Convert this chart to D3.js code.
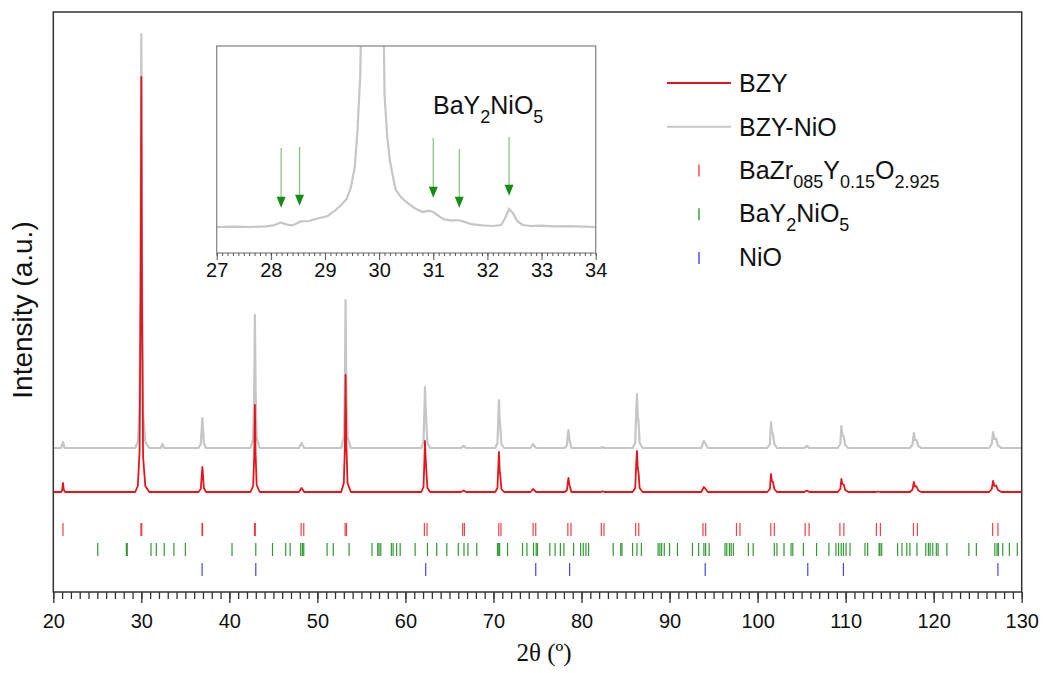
<!DOCTYPE html>
<html>
<head>
<meta charset="utf-8">
<script src="https://cdn.jsdelivr.net/npm/d3@7"></script>
<style>
    body { margin: 0; background: #fff; }
    svg { display: block; }
    text { font-family: "Liberation Sans", Arial, sans-serif; fill: #111; }
</style>
</head>
<body>
<div id="chart"></div>
<script>

// Diffraction patterns as [2theta, intensity above own baseline] points.
var bzyPattern = [
    [20, 0], [20.9, 0], [21.0, 15], [21.1, 90], [21.2, 20], [21.35, 0],
    [29.3, 0], [29.6, 60], [29.8, 400], [29.92, 2000], [30.0, 4150], [30.08, 1800], [30.2, 350], [30.45, 60], [30.9, 0],
    [36.5, 0], [36.75, 30], [36.85, 150], [36.93, 250], [37.0, 180], [37.1, 40], [37.35, 0],
    [42.4, 0], [42.7, 60], [42.82, 350], [42.9, 870], [42.98, 380], [43.1, 70], [43.45, 0],
    [47.9, 0], [48.2, 40], [48.5, 0],
    [52.7, 0], [53.0, 90], [53.12, 450], [53.2, 1170], [53.28, 500], [53.42, 90], [53.8, 0],
    [61.8, 0], [62.05, 50], [62.15, 300], [62.22, 510], [62.3, 330], [62.38, 200], [62.5, 40], [62.8, 0],
    [66.3, 0], [66.6, 15], [66.9, 0],
    [70.2, 0], [70.45, 40], [70.55, 250], [70.62, 400], [70.7, 220], [70.78, 160], [70.9, 30], [71.2, 0],
    [74.2, 0], [74.5, 30], [74.6, 20], [74.85, 0],
    [78.1, 0], [78.35, 20], [78.45, 100], [78.52, 140], [78.6, 80], [78.7, 50], [78.85, 0],
    [82.2, 0], [82.4, 8], [82.6, 0],
    [85.8, 0], [86.1, 40], [86.22, 300], [86.3, 410], [86.38, 250], [86.48, 190], [86.6, 40], [86.95, 0],
    [93.6, 0], [93.9, 50], [94.1, 30], [94.35, 0],
    [101.1, 0], [101.4, 30], [101.52, 180], [101.62, 110], [101.75, 100], [101.9, 30], [102.2, 0],
    [105.3, 0], [105.6, 15], [105.9, 0],
    [109.1, 0], [109.4, 30], [109.52, 130], [109.62, 80], [109.78, 75], [109.95, 20], [110.3, 0],
    [113.5, 0], [113.7, 5], [113.9, 0],
    [117.3, 0], [117.6, 25], [117.75, 100], [117.88, 55], [118.05, 55], [118.25, 15], [118.6, 0],
    [126.3, 0], [126.6, 30], [126.75, 110], [126.9, 60], [127.1, 65], [127.3, 20], [127.7, 0],
    [130, 0]
];

var bzyNioPattern = [
    [20, 0], [20.9, 0], [21.1, 60], [21.3, 0],
    [29.3, 0], [29.6, 60], [29.8, 400], [29.92, 2000], [30.0, 4140], [30.08, 1800], [30.2, 350], [30.45, 60], [30.9, 0],
    [32.2, 0], [32.4, 40], [32.6, 0],
    [36.5, 0], [36.75, 40], [36.85, 180], [36.93, 300], [37.0, 200], [37.1, 50], [37.35, 0],
    [42.4, 0], [42.7, 90], [42.82, 550], [42.9, 1330], [42.98, 560], [43.1, 100], [43.45, 0],
    [47.9, 0], [48.2, 50], [48.5, 0],
    [52.7, 0], [53.0, 110], [53.12, 560], [53.2, 1480], [53.28, 600], [53.42, 110], [53.8, 0],
    [61.8, 0], [62.05, 60], [62.15, 360], [62.22, 610], [62.3, 400], [62.38, 240], [62.5, 50], [62.8, 0],
    [66.3, 0], [66.6, 20], [66.9, 0],
    [70.2, 0], [70.45, 50], [70.55, 300], [70.62, 480], [70.7, 280], [70.78, 200], [70.9, 40], [71.2, 0],
    [74.2, 0], [74.5, 40], [74.6, 25], [74.85, 0],
    [78.1, 0], [78.35, 30], [78.45, 130], [78.52, 180], [78.6, 100], [78.7, 60], [78.85, 0],
    [82.2, 0], [82.4, 10], [82.6, 0],
    [85.8, 0], [86.1, 50], [86.22, 380], [86.3, 540], [86.38, 330], [86.48, 260], [86.6, 50], [86.95, 0],
    [93.6, 0], [93.9, 70], [94.1, 40], [94.35, 0],
    [101.1, 0], [101.4, 40], [101.52, 260], [101.62, 160], [101.75, 140], [101.9, 40], [102.2, 0],
    [105.3, 0], [105.6, 20], [105.9, 0],
    [109.1, 0], [109.4, 40], [109.52, 220], [109.62, 130], [109.78, 120], [109.95, 30], [110.3, 0],
    [117.3, 0], [117.6, 35], [117.75, 150], [117.88, 80], [118.05, 80], [118.25, 20], [118.6, 0],
    [126.3, 0], [126.6, 40], [126.75, 160], [126.9, 90], [127.1, 95], [127.3, 25], [127.7, 0],
    [130, 0]
];

// Zoomed BZY-NiO pattern for the inset (27 - 34 degrees).
var insetPattern = [
    [27.0, 0], [27.3, 2], [27.6, 0], [27.9, 3], [28.05, 8], [28.18, 23], [28.3, 12], [28.4, 8],
    [28.55, 28], [28.7, 30], [28.9, 45], [29.05, 55], [29.2, 86], [29.3, 110], [29.4, 140],
    [29.48, 200], [29.55, 300], [29.6, 480], [29.65, 750], [29.69, 1300], [29.8, 20000],
    [30.0, 20000], [30.07, 1300], [30.1, 660], [30.15, 450], [30.2, 330], [30.3, 190], [30.4, 150],
    [30.5, 125], [30.65, 95], [30.8, 75], [30.92, 82], [31.0, 75], [31.1, 55], [31.2, 38],
    [31.35, 32], [31.45, 35], [31.55, 28], [31.7, 14], [31.9, 8], [32.1, 5], [32.25, 10],
    [32.32, 40], [32.4, 90], [32.47, 70], [32.55, 30], [32.65, 10], [32.8, 5], [33.0, 7],
    [33.2, 3], [33.5, 4], [34.0, 0]
];

// Reference positions (2theta) of each phase.
var bzyRefs = [21.1, 29.95, 30.05, 36.9, 36.95, 42.85, 42.95, 48.15, 48.45, 53.15, 53.3, 62.15, 62.45,
    66.5, 66.7, 70.6, 70.85, 74.5, 74.8, 78.45, 78.8, 82.25, 82.55, 86.15, 86.5, 93.8, 94.1,
    97.6, 98.0, 101.5, 101.9, 105.4, 105.85, 109.35, 109.8, 113.5, 113.95, 117.7, 118.15, 126.7, 127.3];
var bayRefs = [25.05, 28.3, 28.4, 31.1, 31.7, 32.6, 33.7, 35.0, 40.3, 43.0, 44.9, 46.4, 46.9, 48.1, 48.3, 48.45,
    51.1, 51.8, 53.6, 56.2, 56.85, 57.0, 57.2, 58.4, 58.6, 59.0, 59.4, 61.1, 62.5, 63.55, 64.7, 66.0,
    66.65, 67.1, 68.1, 70.45, 70.6, 70.7, 71.6, 73.3, 73.8, 74.55, 74.85, 75.0, 76.4, 77.0, 77.6, 78.0,
    79.1, 79.9, 80.2, 80.5, 80.8, 83.6, 84.45, 84.6, 85.8, 86.3, 86.8, 88.7, 88.9, 89.1, 89.4, 90.0,
    90.9, 92.6, 93.3, 93.9, 94.1, 94.5, 96.3, 96.5, 96.8, 97.0, 97.25, 98.95, 99.5, 101.9, 102.2, 103.0,
    103.8, 104.0, 105.2, 106.7, 108.1, 108.9, 109.2, 109.5, 109.75, 110.05, 110.5, 112.2, 112.5, 113.8,
    113.9, 114.1, 115.9, 116.4, 116.95, 117.3, 118.1, 119.1, 119.4, 119.6, 119.9, 120.3, 120.5, 121.5,
    124.0, 124.85, 126.95, 127.2, 127.35, 127.85, 128.6, 129.5];
var nioRefs = [36.9, 43.0, 62.3, 74.8, 78.65, 94.05, 105.7, 109.75, 127.3];

// Green arrows in the inset: [2theta, tail intensity, tip intensity]
var insetArrows = [[28.19, 395, 96], [28.53, 400, 106], [31.0, 445, 146], [31.48, 390, 96], [32.4, 450, 156]];

var xTicks = [20, 30, 40, 50, 60, 70, 80, 90, 100, 110, 120, 130];
var insetTicks = [27, 28, 29, 30, 31, 32, 33, 34];

var seriesNames = ["BZY", "BZY-NiO"];
// Phase names split in [text, subscript?] pieces
var phaseNames = [
    [["BaZr", 0], ["085", 1], ["Y", 0], ["0.15", 1], ["O", 0], ["2.925", 1]],
    [["BaY", 0], ["2", 1], ["NiO", 0], ["5", 1]],
    [["NiO", 0]]
];

var width = 1043,
    height = 673,
    bzyColor = "#e3161d",
    nioColor = "#c6c6c6",
    phaseColors = ["#ee2028", "#0f870f", "#2424e8"],
    bzyOffset = 1000,     // vertical shift of the BZY trace
    bzyNioOffset = 1440,  // vertical shift of the BZY-NiO trace
    frameColor = "#333";

var svg = d3.select("#chart")
    .append("svg")
    .attr("width", width)
    .attr("height", height);

svg.append("rect").attr("width", width).attr("height", height).attr("fill", "#fff");

var xScale = d3.scaleLinear().domain([20, 130]).range([53.3, 1021.7]);
var yScale = d3.scaleLinear().domain([0, 5800]).range([592, 12]);

function trace(offset) {
    return d3.line()
        .x(function (d) { return xScale(d[0]); })
        .y(function (d) { return yScale(d[1] + offset); });
}

svg.append("path")
    .attr("fill", "none")
    .attr("stroke", nioColor)
    .attr("stroke-width", 2.2)
    .attr("stroke-linejoin", "round")
    .attr("d", trace(bzyNioOffset)(bzyNioPattern));

svg.append("path")
    .attr("fill", "none")
    .attr("stroke", bzyColor)
    .attr("stroke-width", 1.8)
    .attr("stroke-linejoin", "round")
    .attr("d", trace(bzyOffset)(bzyPattern));

// Reference sticks, one row per phase
var rowScale = d3.scalePoint().domain([0, 1, 2]).range([yScale(625), yScale(225)]);
[bzyRefs, bayRefs, nioRefs].forEach(function (refs, i) {
    svg.append("g").selectAll("line")
        .data(refs)
        .enter()
        .append("line")
        .attr("x1", function (d) { return xScale(d); })
        .attr("x2", function (d) { return xScale(d); })
        .attr("y1", rowScale(i) - 6.5)
        .attr("y2", rowScale(i) + 6.5)
        .attr("stroke", phaseColors[i])
        .attr("stroke-opacity", 0.85)
        .attr("stroke-width", 1.2);
});

// Frame
svg.append("rect")
    .attr("x", xScale(20))
    .attr("y", yScale(5800))
    .attr("width", xScale(130) - xScale(20))
    .attr("height", yScale(0) - yScale(5800))
    .attr("fill", "none")
    .attr("stroke", frameColor)
    .attr("stroke-width", 1.5);

// x axis: minor ticks every degree, major every ten
var minorAxis = svg.append("g")
    .attr("transform", "translate(0," + yScale(0) + ")")
    .call(d3.axisBottom(xScale).tickValues(d3.range(20, 131, 1)).tickSize(7).tickFormat(""));
var majorAxis = svg.append("g")
    .attr("transform", "translate(0," + yScale(0) + ")")
    .call(d3.axisBottom(xScale).tickValues(xTicks).tickSize(11).tickPadding(11).tickFormat(d3.format("d")));
[minorAxis, majorAxis].forEach(function (ax) {
    ax.select(".domain").remove();
    ax.selectAll("line").attr("stroke", frameColor).attr("stroke-width", 1.3);
});
majorAxis.selectAll("text")
    .style("font-family", "'Liberation Sans', Arial, sans-serif")
    .style("font-size", "20px")
    .attr("fill", "#111");

svg.append("text")
    .attr("x", 544)
    .attr("y", 661)
    .attr("text-anchor", "middle")
    .style("font-family", "'Liberation Serif', 'Times New Roman', serif")
    .style("font-size", "25px")
    .text("2θ (º)");

svg.append("text")
    .attr("transform", "translate(32,310) rotate(-90)")
    .attr("text-anchor", "middle")
    .style("font-size", "28px")
    .text("Intensity (a.u.)");

// Legend
var legend = svg.append("g").attr("transform", "translate(667,0)");
var legendY = d3.scalePoint().domain([0, 1, 2, 3, 4]).range([83, 258]);

[bzyColor, nioColor].forEach(function (c, i) {
    legend.append("line")
        .attr("x1", 0).attr("x2", 64)
        .attr("y1", legendY(i)).attr("y2", legendY(i))
        .attr("stroke", c)
        .attr("stroke-width", 2);
    legend.append("text")
        .attr("x", 72)
        .attr("y", legendY(i) + 9)
        .style("font-size", "25px")
        .text(seriesNames[i]);
});

function writeFormula(textSel, parts) {
    parts.forEach(function (p, j) {
        var prevSub = j > 0 && parts[j - 1][1];
        textSel.append("tspan")
            .attr("dy", p[1] ? 9 : (prevSub ? -9 : 0))
            .style("font-size", p[1] ? "18px" : "25px")
            .text(p[0]);
    });
}

phaseNames.forEach(function (parts, i) {
    var yy = legendY(i + 2);
    legend.append("line")
        .attr("x1", 32).attr("x2", 32)
        .attr("y1", yy - 6).attr("y2", yy + 6)
        .attr("stroke", phaseColors[i])
        .attr("stroke-width", 1.2);
    var t = legend.append("text")
        .attr("x", 72)
        .attr("y", yy + 8);
    writeFormula(t, parts);
});

// Inset
var ix = d3.scaleLinear().domain([27, 34]).range([216.7, 595.7]);
var iy = d3.scaleLinear().domain([-130, 905]).range([253, 46]);

var inset = svg.append("g");
inset.append("clipPath")
    .attr("id", "inset-clip")
    .append("rect")
    .attr("x", ix(27)).attr("y", iy(905))
    .attr("width", ix(34) - ix(27)).attr("height", iy(-130) - iy(905));

inset.append("rect")
    .attr("x", ix(27)).attr("y", iy(905))
    .attr("width", ix(34) - ix(27)).attr("height", iy(-130) - iy(905))
    .attr("fill", "#fff");

inset.append("path")
    .attr("clip-path", "url(#inset-clip)")
    .attr("fill", "none")
    .attr("stroke", nioColor)
    .attr("stroke-width", 2.2)
    .attr("d", d3.line()
        .x(function (d) { return ix(d[0]); })
        .y(function (d) { return iy(d[1]); })(insetPattern));

inset.append("rect")
    .attr("x", ix(27)).attr("y", iy(905))
    .attr("width", ix(34) - ix(27)).attr("height", iy(-130) - iy(905))
    .attr("fill", "none")
    .attr("stroke", "#8a8a8a")
    .attr("stroke-width", 1.3);

var insetMinor = inset.append("g")
    .attr("transform", "translate(0," + iy(-130) + ")")
    .call(d3.axisBottom(ix).tickValues(d3.range(270, 341, 1).map(function (v) { return v / 10; }))
        .tickSize(3).tickFormat(""));
var insetMajor = inset.append("g")
    .attr("transform", "translate(0," + iy(-130) + ")")
    .call(d3.axisBottom(ix).tickValues(insetTicks).tickSize(7).tickPadding(3).tickFormat(d3.format("d")));
[insetMinor, insetMajor].forEach(function (ax) {
    ax.select(".domain").remove();
    ax.selectAll("line").attr("stroke", "#555");
});
insetMajor.selectAll("text")
    .style("font-family", "'Liberation Sans', Arial, sans-serif")
    .style("font-size", "20px")
    .attr("fill", "#111");

// Arrows marking the BaY2NiO5 reflections
insetArrows.forEach(function (a) {
    var xx = ix(a[0]), y0 = iy(a[1]), y1 = iy(a[2]);
    inset.append("line")
        .attr("x1", xx).attr("x2", xx)
        .attr("y1", y0).attr("y2", y1 - 8)
        .attr("stroke", "#7cc47c")
        .attr("stroke-width", 1.2);
    inset.append("path")
        .attr("d", "M" + (xx - 4.5) + "," + (y1 - 11) + "L" + (xx + 4.5) + "," + (y1 - 11) + "L" + xx + "," + y1 + "Z")
        .attr("fill", "#138d13");
});

var insetLabel = inset.append("text")
    .attr("x", 433)
    .attr("y", 114);
writeFormula(insetLabel, phaseNames[1]);

</script>
</body>
</html>
